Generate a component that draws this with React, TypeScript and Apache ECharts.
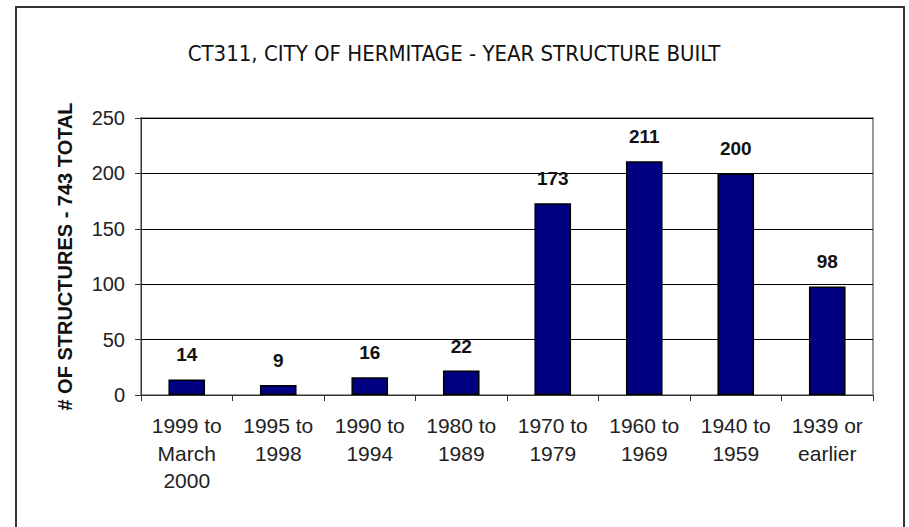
import React, { useEffect, useRef } from "react";
import * as echarts from "echarts";

const titleText = "CT311, CITY OF HERMITAGE - YEAR STRUCTURE BUILT";
const yAxisName = "# OF STRUCTURES - 743 TOTAL";
const categories = [
  "1999 to\nMarch\n2000",
  "1995 to\n1998",
  "1990 to\n1994",
  "1980 to\n1989",
  "1970 to\n1979",
  "1960 to\n1969",
  "1940 to\n1959",
  "1939 or\nearlier",
];
const structures = [14, 9, 16, 22, 173, 211, 200, 98];
const yTicks = { min: 0, max: 250, interval: 50 };

export default function App() {
  const ref = useRef<HTMLDivElement>(null);
  useEffect(() => {
    document.body.style.margin = "0";
    const chart = echarts.init(ref.current!, null, { renderer: "svg" });
    chart.setOption({
      animation: false,
      backgroundColor: "#ffffff",
      title: {
        text: titleText,
        left: 449,
        top: 37,
        textAlign: "center",
        textStyle: {
          fontFamily: "DejaVu Sans Condensed",
          fontWeight: "normal",
          fontSize: 22,
          color: "#111",
        },
      },
      graphic: [
        {
          type: "rect",
          shape: { x: 16, y: 7, width: 888, height: 540 },
          style: { fill: "none", stroke: "#333", lineWidth: 2 },
          silent: true,
          z: 100,
        },
      ],
      grid: {
        left: 141,
        top: 118,
        right: 36,
        bottom: 132,
        show: true,
        borderColor: "#999",
        borderWidth: 2,
      },
      xAxis: {
        type: "category",
        data: categories,
        axisLine: { show: true, lineStyle: { color: "#333", width: 1 } },
        axisTick: { show: true, alignWithLabel: false, length: 6, lineStyle: { color: "#333" } },
        axisLabel: {
          interval: 0,
          margin: 17,
          fontFamily: "Liberation Sans",
          fontSize: 21,
          lineHeight: 27.5,
          color: "#222",
        },
      },
      yAxis: {
        type: "value",
        min: yTicks.min,
        max: yTicks.max,
        interval: yTicks.interval,
        name: yAxisName,
        nameLocation: "middle",
        nameGap: 66,
        nameTextStyle: {
          fontFamily: "Liberation Sans",
          fontWeight: "bold",
          fontSize: 20,
          color: "#111",
        },
        axisLine: { show: true, lineStyle: { color: "#333", width: 1 } },
        axisTick: { show: true, length: 6, lineStyle: { color: "#333" } },
        axisLabel: {
          margin: 16,
          fontFamily: "Liberation Sans",
          fontSize: 20,
          color: "#222",
        },
        splitLine: { show: true, lineStyle: { color: "#000", width: 1 } },
      },
      series: [
        {
          type: "bar",
          data: structures,
          barWidth: "40%",
          itemStyle: { color: "#000080", borderColor: "#000", borderWidth: 1.5 },
          label: {
            show: true,
            position: "top",
            distance: 15,
            fontFamily: "Liberation Sans",
            fontWeight: "bold",
            fontSize: 19,
            color: "#111",
          },
        },
      ],
    });
    return () => chart.dispose();
  }, []);
  return <div ref={ref} style={{ width: 909, height: 527 }} />;
}
